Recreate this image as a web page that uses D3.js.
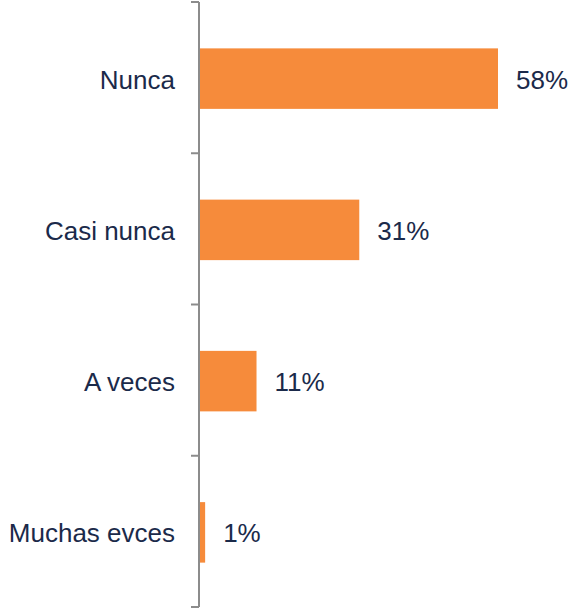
<!DOCTYPE html>
<html>
<head>
<meta charset="utf-8">
<script src="https://cdn.jsdelivr.net/npm/d3@7"></script>
<style>
  body { margin: 0; background: #fff; }
  text { font-family: "Liberation Sans", Arial, sans-serif; }
</style>
</head>
<body>
<div id="chart"></div>
<script>
// Data
const categories = ['Nunca', 'Casi nunca', 'A veces', 'Muchas evces'];
const values = [58, 31, 11, 1];

let width = 578,
  height = 613;

const svg = d3
  .select('#chart')
  .append('svg')
  .attr('width', width)
  .attr('height', height);

const y = d3
  .scaleBand()
  .domain(categories)
  .range([3, 608])
  .paddingInner(0.6)
  .paddingOuter(0.3);

const x = d3.scaleLinear().domain([0, 58]).range([200, 498]);

// bars
svg
  .selectAll('rect')
  .data(categories)
  .join('rect')
  .attr('x', x(0))
  .attr('y', (d) => y(d))
  .attr('width', (d, i) => x(values[i]) - x(0))
  .attr('height', y.bandwidth())
  .attr('fill', '#f68b3b');

// axis line + ticks at band edges
const edges = d3.range(categories.length + 1).map((i) => 2 + i * (605 / categories.length));
svg
  .append('line')
  .attr('x1', 199)
  .attr('x2', 199)
  .attr('y1', 2)
  .attr('y2', 607)
  .attr('stroke', '#8c8c8c')
  .attr('stroke-width', 2);
svg
  .selectAll('.tick')
  .data(edges)
  .join('line')
  .attr('class', 'tick')
  .attr('x1', 191)
  .attr('x2', 199)
  .attr('y1', (d) => d)
  .attr('y2', (d) => d)
  .attr('stroke', '#8c8c8c')
  .attr('stroke-width', 2);

// category labels
svg
  .selectAll('.cat')
  .data(categories)
  .join('text')
  .attr('class', 'cat')
  .attr('x', 175)
  .attr('y', (d) => y(d) + y.bandwidth() / 2)
  .attr('dy', '0.38em')
  .attr('text-anchor', 'end')
  .attr('font-size', 26)
  .attr('fill', '#1b2a4a')
  .text((d) => d);

// value labels
svg
  .selectAll('.val')
  .data(categories)
  .join('text')
  .attr('class', 'val')
  .attr('x', (d, i) => x(values[i]) + 18)
  .attr('y', (d) => y(d) + y.bandwidth() / 2)
  .attr('dy', '0.38em')
  .attr('font-size', 26)
  .attr('fill', '#1b2a4a')
  .text((d, i) => values[i] + '%');
</script>
</body>
</html>
